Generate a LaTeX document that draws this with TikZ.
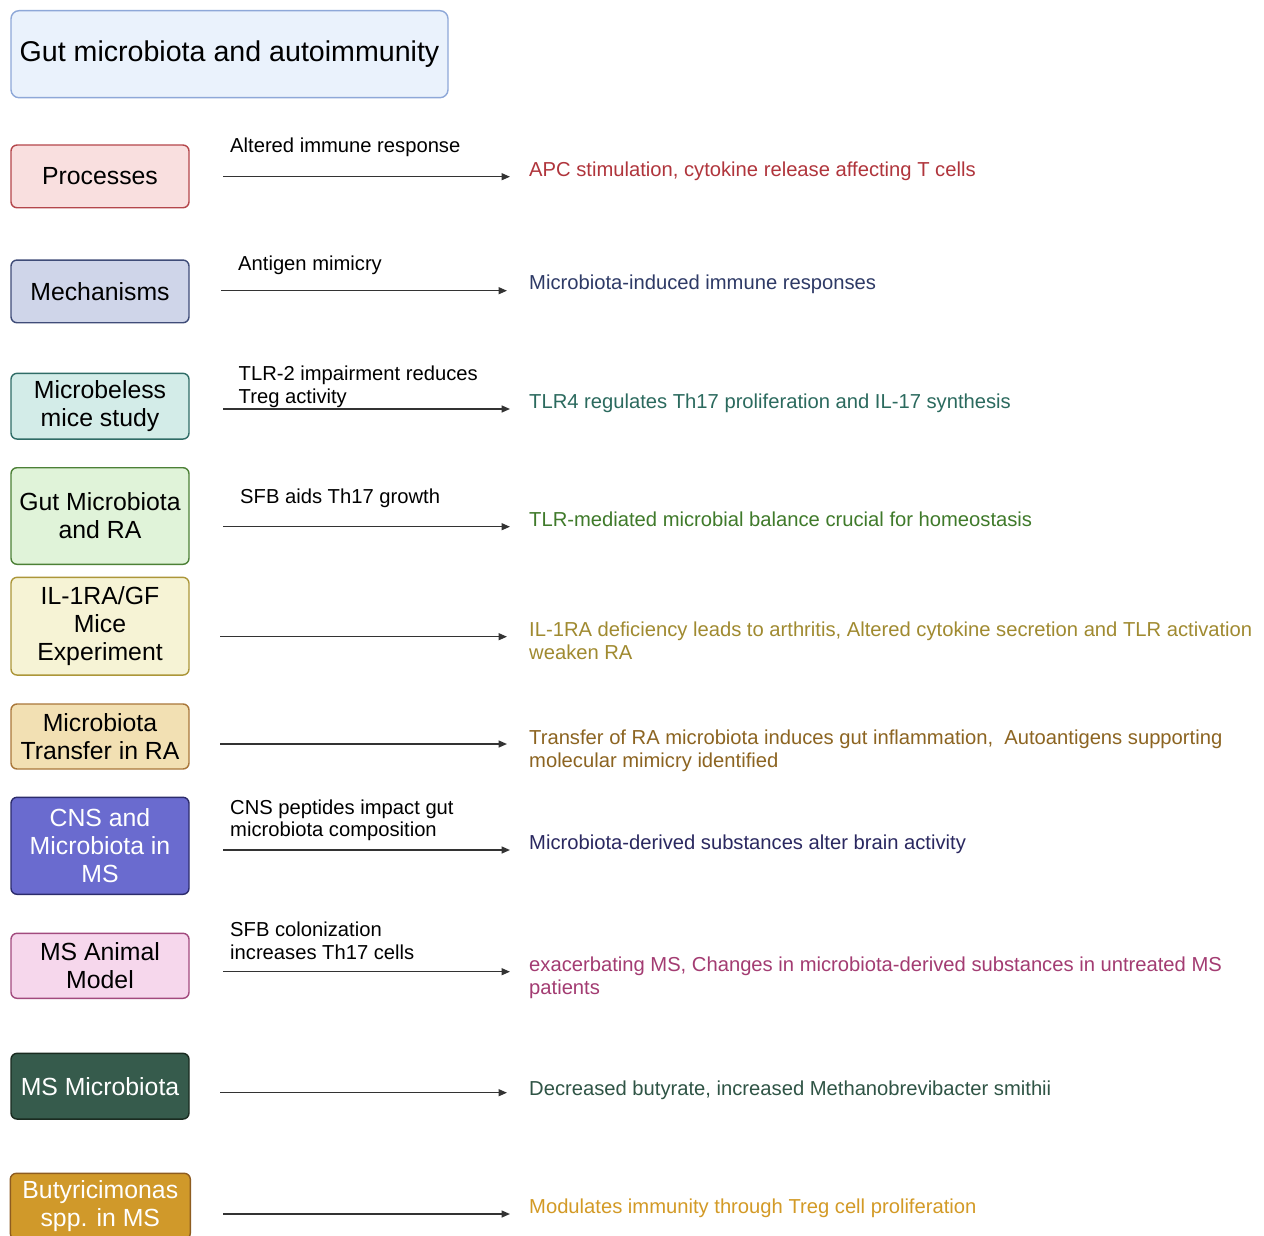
\documentclass[tikz,border=0pt]{standalone}
\usepackage{fontspec}
\setmainfont{Liberation Sans}
\usetikzlibrary{arrows.meta}
\definecolor{tF}{HTML}{EAF2FC}\definecolor{tD}{HTML}{8EA8D8}
\definecolor{aF}{HTML}{F9DFDF}\definecolor{aD}{HTML}{B4464B}
\definecolor{bF}{HTML}{CFD5E9}\definecolor{bD}{HTML}{3F4C78}
\definecolor{cF}{HTML}{D3ECE8}\definecolor{cD}{HTML}{2F6C66}
\definecolor{dF}{HTML}{E0F3D9}\definecolor{dD}{HTML}{4C8036}
\definecolor{eF}{HTML}{F6F3D5}\definecolor{eD}{HTML}{AC9639}
\definecolor{fF}{HTML}{F2E0B3}\definecolor{fD}{HTML}{A9773A}
\definecolor{gF}{HTML}{6A6BCF}\definecolor{gD}{HTML}{2C2C6C}
\definecolor{hF}{HTML}{F6D7EC}\definecolor{hD}{HTML}{A24A7E}
\definecolor{iF}{HTML}{365B4C}\definecolor{iD}{HTML}{1A2B20}
\definecolor{jF}{HTML}{D0992A}\definecolor{jD}{HTML}{8E5C20}
\definecolor{aT}{HTML}{B0353C}
\definecolor{bT}{HTML}{2E3A66}
\definecolor{cT}{HTML}{2B6A5E}
\definecolor{dT}{HTML}{3F7A2A}
\definecolor{eT}{HTML}{A08A30}
\definecolor{fT}{HTML}{8C6421}
\definecolor{gT}{HTML}{2A2860}
\definecolor{hT}{HTML}{A33C72}
\definecolor{iT}{HTML}{2F5445}
\definecolor{jT}{HTML}{D39A26}
\definecolor{arr}{HTML}{333333}
\tikzset{
  catbox/.style={draw, rounded corners=6pt, line width=1.4pt, minimum width=178pt,
    align=center, inner sep=0pt, font=\fontsize{24.8}{28}\selectfont},
  edgelab/.style={anchor=base west, inner sep=0pt, align=left,
    font=\fontsize{20.2}{22.5}\selectfont},
  restext/.style={anchor=base west, inner sep=0pt, align=left,
    font=\fontsize{20.2}{23}\selectfont},
  flow/.style={draw=arr, line width=1.5pt, -{Triangle[length=8.5pt,width=7pt]}}
}
\begin{document}
\begin{tikzpicture}[x=1pt,y=-1pt]
\useasboundingbox[fill=white] (0,0) rectangle (1264,1236);
% title
\node[draw=tD, fill=tF, rounded corners=8pt, line width=1.4pt, minimum width=437pt,
  minimum height=87pt, inner sep=0pt, font=\fontsize{28.6}{32}\selectfont]
  (title) at (229.5,54.2) {Gut microbiota and autoimmunity};
% category boxes
\node[catbox, draw=aD, fill=aF, minimum height=62.7pt] (k1) at (100,176.4) {Processes};
\node[catbox, draw=bD, fill=bF, minimum height=62.7pt] (k2) at (100,291.4) {Mechanisms};
\node[catbox, draw=cD, fill=cF, minimum height=65.7pt] (k3) at (100,406.2) {Microbeless\\mice study};
\node[catbox, draw=dD, fill=dF, minimum height=96.6pt] (k4) at (100,516) {Gut Microbiota\\and RA};
\node[catbox, draw=eD, fill=eF, minimum height=97.7pt] (k5) at (100,626.2) {IL-1RA/GF\\Mice\\Experiment};
\node[catbox, draw=fD, fill=fF, minimum height=65pt] (k6) at (100,736.5) {Microbiota\\Transfer in RA};
\node[catbox, draw=gD, fill=gF, text=white, minimum height=97pt] (k7) at (100,845.8) {CNS and\\Microbiota in\\MS};
\node[catbox, draw=hD, fill=hF, minimum height=65pt] (k8) at (100,965.8) {MS Animal\\Model};
\node[catbox, draw=iD, fill=iF, text=white, minimum height=65.7pt] (k9) at (100,1086.2) {MS Microbiota};
\node[catbox, draw=jD, fill=jF, text=white, minimum height=66pt, minimum width=180pt] (k10) at (100.3,1206.3) {Butyricimonas\\spp. in MS};
% arrow end points
\coordinate (s1) at (223,176.7);  \coordinate (e1) at (510,176.7);
\coordinate (s2) at (221,290.7);  \coordinate (e2) at (507,290.7);
\coordinate (s3) at (223,409);    \coordinate (e3) at (510,409);
\coordinate (s4) at (223,526.7);  \coordinate (e4) at (510,526.7);
\coordinate (s5) at (220,636.7);  \coordinate (e5) at (507,636.7);
\coordinate (s6) at (220,744);    \coordinate (e6) at (507,744);
\coordinate (s7) at (223,850);    \coordinate (e7) at (510,850);
\coordinate (s8) at (223,971.7);  \coordinate (e8) at (510,971.7);
\coordinate (s9) at (220,1092.7); \coordinate (e9) at (507,1092.7);
\coordinate (s10) at (223,1214);  \coordinate (e10) at (510,1214);
\foreach \i in {1,...,10} { \draw[flow] (s\i) -- (e\i); }
% edge labels (base anchor = last line's baseline)
\node[edgelab] (l1) at (230,153) {Altered immune response};
\node[edgelab] (l2) at (238,270) {Antigen mimicry};
\node[edgelab] (l3) at (238.5,403) {TLR-2 impairment reduces\\Treg activity};
\node[edgelab] (l4) at (240,503) {SFB aids Th17 growth};
\node[edgelab] (l7) at (230,836.5) {CNS peptides impact gut\\microbiota composition};
\node[edgelab] (l8) at (230,959) {SFB colonization\\increases Th17 cells};
% result texts
\node[restext, text=aT] (r1) at (529,176) {APC stimulation, cytokine release affecting T cells};
\node[restext, text=bT] (r2) at (529,289) {Microbiota-induced immune responses};
\node[restext, text=cT] (r3) at (529,408) {TLR4 regulates Th17 proliferation and IL-17 synthesis};
\node[restext, text=dT] (r4) at (529,526) {TLR-mediated microbial balance crucial for homeostasis};
\node[restext, text=eT] (r5) at (529,659) {IL-1RA deficiency leads to arthritis, Altered cytokine secretion and TLR activation\\weaken RA};
\node[restext, text=fT] (r6) at (529,767) {Transfer of RA microbiota induces gut inflammation,\ \ Autoantigens supporting\\molecular mimicry identified};
\node[restext, text=gT] (r7) at (529,849) {Microbiota-derived substances alter brain activity};
\node[restext, text=hT] (r8) at (529,994) {exacerbating MS, Changes in microbiota-derived substances in untreated MS\\patients};
\node[restext, text=iT] (r9) at (529,1095) {Decreased butyrate, increased Methanobrevibacter smithii};
\node[restext, text=jT] (r10) at (529,1213) {Modulates immunity through Treg cell proliferation};
\end{tikzpicture}
\end{document}
